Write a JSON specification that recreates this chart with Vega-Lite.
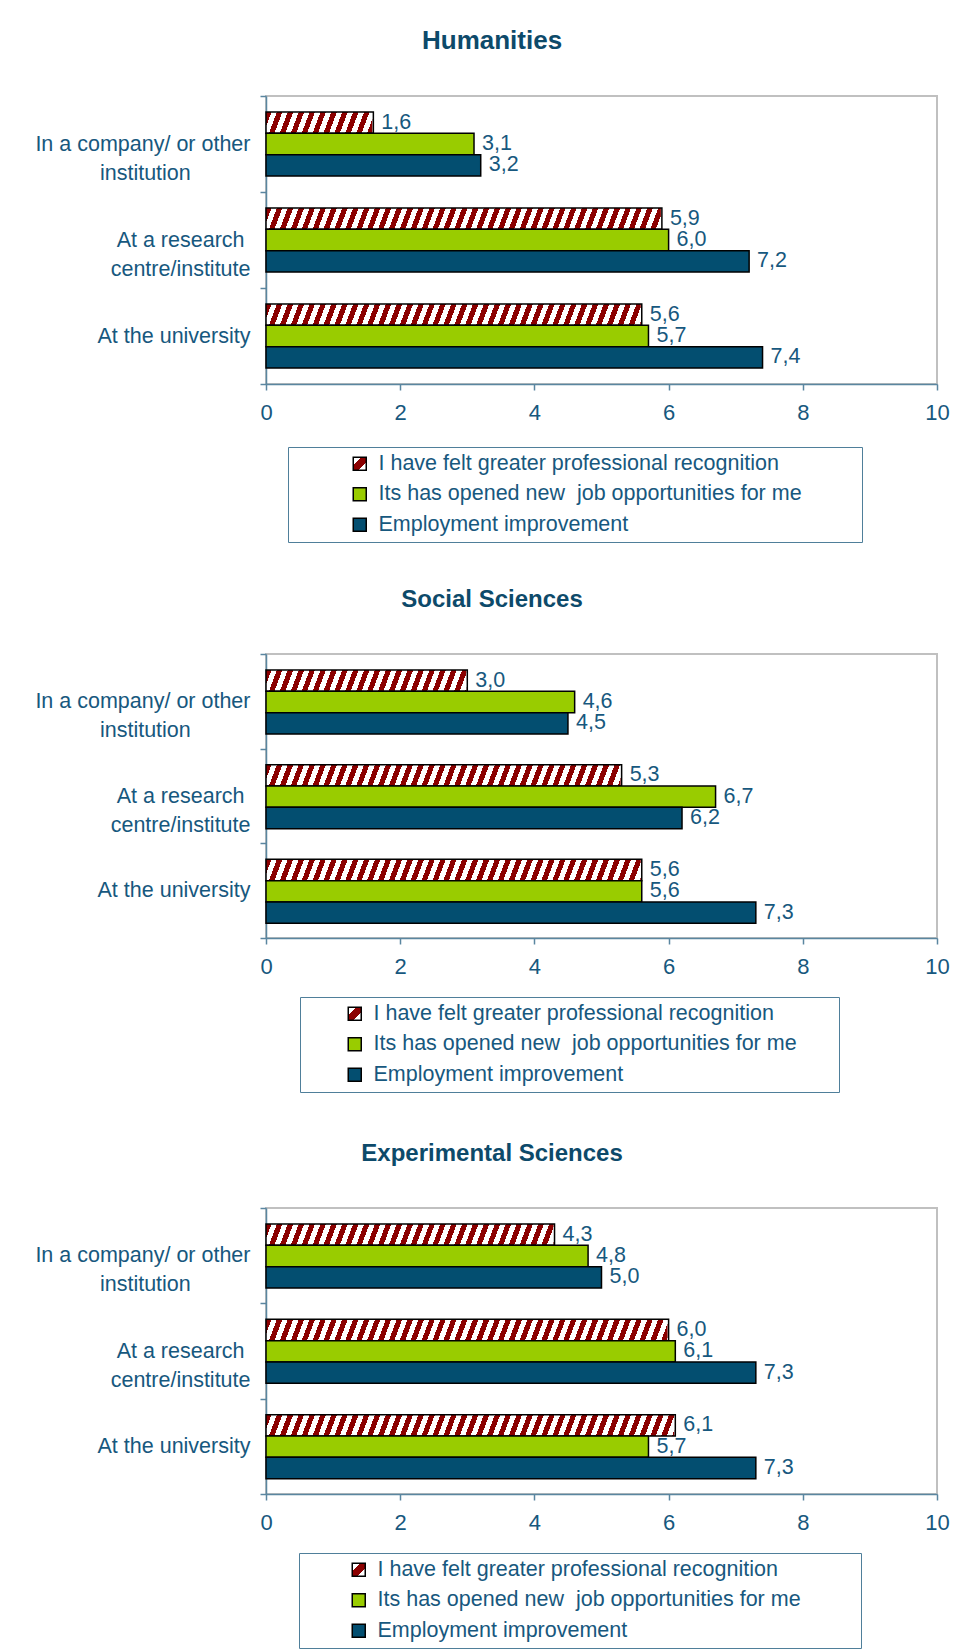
{
  "$schema": "https://vega.github.io/schema/vega-lite/v6.json",
  "background": "white",
  "padding": {"left": 33, "top": 27, "right": 0, "bottom": 0},
  "bounds": "flush",
  "spacing": 270,
  "params": [
    {"name": "hatch", "value": {"gradient": "linear", "x1": 0, "y1": 0, "x2": 1.0147, "y2": 0.0151, "stops": [
      {"offset":0,"color":"darkred"},{"offset":0.01,"color":"darkred"},{"offset":0.01,"color":"white"},{"offset":0.02,"color":"white"},
      {"offset":0.02,"color":"darkred"},{"offset":0.03,"color":"darkred"},{"offset":0.03,"color":"white"},{"offset":0.04,"color":"white"},
      {"offset":0.04,"color":"darkred"},{"offset":0.05,"color":"darkred"},{"offset":0.05,"color":"white"},{"offset":0.06,"color":"white"},
      {"offset":0.06,"color":"darkred"},{"offset":0.07,"color":"darkred"},{"offset":0.07,"color":"white"},{"offset":0.08,"color":"white"},
      {"offset":0.08,"color":"darkred"},{"offset":0.09,"color":"darkred"},{"offset":0.09,"color":"white"},{"offset":0.1,"color":"white"},
      {"offset":0.1,"color":"darkred"},{"offset":0.11,"color":"darkred"},{"offset":0.11,"color":"white"},{"offset":0.12,"color":"white"},
      {"offset":0.12,"color":"darkred"},{"offset":0.13,"color":"darkred"},{"offset":0.13,"color":"white"},{"offset":0.14,"color":"white"},
      {"offset":0.14,"color":"darkred"},{"offset":0.15,"color":"darkred"},{"offset":0.15,"color":"white"},{"offset":0.16,"color":"white"},
      {"offset":0.16,"color":"darkred"},{"offset":0.17,"color":"darkred"},{"offset":0.17,"color":"white"},{"offset":0.18,"color":"white"},
      {"offset":0.18,"color":"darkred"},{"offset":0.19,"color":"darkred"},{"offset":0.19,"color":"white"},{"offset":0.2,"color":"white"},
      {"offset":0.2,"color":"darkred"},{"offset":0.21,"color":"darkred"},{"offset":0.21,"color":"white"},{"offset":0.22,"color":"white"},
      {"offset":0.22,"color":"darkred"},{"offset":0.23,"color":"darkred"},{"offset":0.23,"color":"white"},{"offset":0.24,"color":"white"},
      {"offset":0.24,"color":"darkred"},{"offset":0.25,"color":"darkred"},{"offset":0.25,"color":"white"},{"offset":0.26,"color":"white"},
      {"offset":0.26,"color":"darkred"},{"offset":0.27,"color":"darkred"},{"offset":0.27,"color":"white"},{"offset":0.28,"color":"white"},
      {"offset":0.28,"color":"darkred"},{"offset":0.29,"color":"darkred"},{"offset":0.29,"color":"white"},{"offset":0.3,"color":"white"},
      {"offset":0.3,"color":"darkred"},{"offset":0.31,"color":"darkred"},{"offset":0.31,"color":"white"},{"offset":0.32,"color":"white"},
      {"offset":0.32,"color":"darkred"},{"offset":0.33,"color":"darkred"},{"offset":0.33,"color":"white"},{"offset":0.34,"color":"white"},
      {"offset":0.34,"color":"darkred"},{"offset":0.35,"color":"darkred"},{"offset":0.35,"color":"white"},{"offset":0.36,"color":"white"},
      {"offset":0.36,"color":"darkred"},{"offset":0.37,"color":"darkred"},{"offset":0.37,"color":"white"},{"offset":0.38,"color":"white"},
      {"offset":0.38,"color":"darkred"},{"offset":0.39,"color":"darkred"},{"offset":0.39,"color":"white"},{"offset":0.4,"color":"white"},
      {"offset":0.4,"color":"darkred"},{"offset":0.41,"color":"darkred"},{"offset":0.41,"color":"white"},{"offset":0.42,"color":"white"},
      {"offset":0.42,"color":"darkred"},{"offset":0.43,"color":"darkred"},{"offset":0.43,"color":"white"},{"offset":0.44,"color":"white"},
      {"offset":0.44,"color":"darkred"},{"offset":0.45,"color":"darkred"},{"offset":0.45,"color":"white"},{"offset":0.46,"color":"white"},
      {"offset":0.46,"color":"darkred"},{"offset":0.47,"color":"darkred"},{"offset":0.47,"color":"white"},{"offset":0.48,"color":"white"},
      {"offset":0.48,"color":"darkred"},{"offset":0.49,"color":"darkred"},{"offset":0.49,"color":"white"},{"offset":0.5,"color":"white"},
      {"offset":0.5,"color":"darkred"},{"offset":0.51,"color":"darkred"},{"offset":0.51,"color":"white"},{"offset":0.52,"color":"white"},
      {"offset":0.52,"color":"darkred"},{"offset":0.53,"color":"darkred"},{"offset":0.53,"color":"white"},{"offset":0.54,"color":"white"},
      {"offset":0.54,"color":"darkred"},{"offset":0.55,"color":"darkred"},{"offset":0.55,"color":"white"},{"offset":0.56,"color":"white"},
      {"offset":0.56,"color":"darkred"},{"offset":0.57,"color":"darkred"},{"offset":0.57,"color":"white"},{"offset":0.58,"color":"white"},
      {"offset":0.58,"color":"darkred"},{"offset":0.59,"color":"darkred"},{"offset":0.59,"color":"white"},{"offset":0.6,"color":"white"},
      {"offset":0.6,"color":"darkred"},{"offset":0.61,"color":"darkred"},{"offset":0.61,"color":"white"},{"offset":0.62,"color":"white"},
      {"offset":0.62,"color":"darkred"},{"offset":0.63,"color":"darkred"},{"offset":0.63,"color":"white"},{"offset":0.64,"color":"white"},
      {"offset":0.64,"color":"darkred"},{"offset":0.65,"color":"darkred"},{"offset":0.65,"color":"white"},{"offset":0.66,"color":"white"},
      {"offset":0.66,"color":"darkred"},{"offset":0.67,"color":"darkred"},{"offset":0.67,"color":"white"},{"offset":0.68,"color":"white"},
      {"offset":0.68,"color":"darkred"},{"offset":0.69,"color":"darkred"},{"offset":0.69,"color":"white"},{"offset":0.7,"color":"white"},
      {"offset":0.7,"color":"darkred"},{"offset":0.71,"color":"darkred"},{"offset":0.71,"color":"white"},{"offset":0.72,"color":"white"},
      {"offset":0.72,"color":"darkred"},{"offset":0.73,"color":"darkred"},{"offset":0.73,"color":"white"},{"offset":0.74,"color":"white"},
      {"offset":0.74,"color":"darkred"},{"offset":0.75,"color":"darkred"},{"offset":0.75,"color":"white"},{"offset":0.76,"color":"white"},
      {"offset":0.76,"color":"darkred"},{"offset":0.77,"color":"darkred"},{"offset":0.77,"color":"white"},{"offset":0.78,"color":"white"},
      {"offset":0.78,"color":"darkred"},{"offset":0.79,"color":"darkred"},{"offset":0.79,"color":"white"},{"offset":0.8,"color":"white"},
      {"offset":0.8,"color":"darkred"},{"offset":0.81,"color":"darkred"},{"offset":0.81,"color":"white"},{"offset":0.82,"color":"white"},
      {"offset":0.82,"color":"darkred"},{"offset":0.83,"color":"darkred"},{"offset":0.83,"color":"white"},{"offset":0.84,"color":"white"},
      {"offset":0.84,"color":"darkred"},{"offset":0.85,"color":"darkred"},{"offset":0.85,"color":"white"},{"offset":0.86,"color":"white"},
      {"offset":0.86,"color":"darkred"},{"offset":0.87,"color":"darkred"},{"offset":0.87,"color":"white"},{"offset":0.88,"color":"white"},
      {"offset":0.88,"color":"darkred"},{"offset":0.89,"color":"darkred"},{"offset":0.89,"color":"white"},{"offset":0.9,"color":"white"},
      {"offset":0.9,"color":"darkred"},{"offset":0.91,"color":"darkred"},{"offset":0.91,"color":"white"},{"offset":0.92,"color":"white"},
      {"offset":0.92,"color":"darkred"},{"offset":0.93,"color":"darkred"},{"offset":0.93,"color":"white"},{"offset":0.94,"color":"white"},
      {"offset":0.94,"color":"darkred"},{"offset":0.95,"color":"darkred"},{"offset":0.95,"color":"white"},{"offset":0.96,"color":"white"},
      {"offset":0.96,"color":"darkred"},{"offset":0.97,"color":"darkred"},{"offset":0.97,"color":"white"},{"offset":0.98,"color":"white"},
      {"offset":0.98,"color":"darkred"},{"offset":0.99,"color":"darkred"},{"offset":0.99,"color":"white"},{"offset":1,"color":"white"}
    ]}},
    {"name": "legendHatch", "value": {"gradient": "linear", "x1": 0, "y1": 0, "x2": 1, "y2": 1, "stops": [
      {"offset":0,"color":"white"},{"offset":0.32,"color":"white"},{"offset":0.32,"color":"darkred"},{"offset":0.68,"color":"darkred"},{"offset":0.68,"color":"white"},{"offset":1,"color":"white"}
    ]}}
  ],
  "datasets": {
    "hum": [
      {"cat": "In a company/ or other institution", "series": "I have felt greater professional recognition", "value": 1.6},
      {"cat": "In a company/ or other institution", "series": "Its has opened new  job opportunities for me", "value": 3.1},
      {"cat": "In a company/ or other institution", "series": "Employment improvement", "value": 3.2},
      {"cat": "At a research centre/institute", "series": "I have felt greater professional recognition", "value": 5.9},
      {"cat": "At a research centre/institute", "series": "Its has opened new  job opportunities for me", "value": 6.0},
      {"cat": "At a research centre/institute", "series": "Employment improvement", "value": 7.2},
      {"cat": "At the university", "series": "I have felt greater professional recognition", "value": 5.6},
      {"cat": "At the university", "series": "Its has opened new  job opportunities for me", "value": 5.7},
      {"cat": "At the university", "series": "Employment improvement", "value": 7.4}
    ],
    "soc": [
      {"cat": "In a company/ or other institution", "series": "I have felt greater professional recognition", "value": 3.0},
      {"cat": "In a company/ or other institution", "series": "Its has opened new  job opportunities for me", "value": 4.6},
      {"cat": "In a company/ or other institution", "series": "Employment improvement", "value": 4.5},
      {"cat": "At a research centre/institute", "series": "I have felt greater professional recognition", "value": 5.3},
      {"cat": "At a research centre/institute", "series": "Its has opened new  job opportunities for me", "value": 6.7},
      {"cat": "At a research centre/institute", "series": "Employment improvement", "value": 6.2},
      {"cat": "At the university", "series": "I have felt greater professional recognition", "value": 5.6},
      {"cat": "At the university", "series": "Its has opened new  job opportunities for me", "value": 5.6},
      {"cat": "At the university", "series": "Employment improvement", "value": 7.3}
    ],
    "exp": [
      {"cat": "In a company/ or other institution", "series": "I have felt greater professional recognition", "value": 4.3},
      {"cat": "In a company/ or other institution", "series": "Its has opened new  job opportunities for me", "value": 4.8},
      {"cat": "In a company/ or other institution", "series": "Employment improvement", "value": 5.0},
      {"cat": "At a research centre/institute", "series": "I have felt greater professional recognition", "value": 6.0},
      {"cat": "At a research centre/institute", "series": "Its has opened new  job opportunities for me", "value": 6.1},
      {"cat": "At a research centre/institute", "series": "Employment improvement", "value": 7.3},
      {"cat": "At the university", "series": "I have felt greater professional recognition", "value": 6.1},
      {"cat": "At the university", "series": "Its has opened new  job opportunities for me", "value": 5.7},
      {"cat": "At the university", "series": "Employment improvement", "value": 7.3}
    ]
  },
  "vconcat": [
    {
      "data": {"name": "hum"},
      "title": {"text": "Humanities", "fontSize": 26},
      "width": 671, "height": 288,
      "encoding": {
        "y": {"field": "cat", "type": "nominal", "title": null,
              "sort": ["In a company/ or other institution", "At a research centre/institute", "At the university"],
              "scale": {"paddingInner": 0, "paddingOuter": 0},
              "axis": {"labelExpr": "datum.value === 'In a company/ or other institution' ? ['In a company/ or other', 'institution\u00a0\u00a0\u00a0\u00a0\u00a0\u00a0\u00a0\u00a0\u00a0\u00a0\u200b'] : datum.value === 'At a research centre/institute' ? ['At a research\u00a0\u200b', 'centre/institute'] : datum.value"}},
        "yOffset": {"field": "series", "type": "nominal",
              "sort": ["I have felt greater professional recognition", "Its has opened new  job opportunities for me", "Employment improvement"],
              "scale": {"paddingInner": 0, "paddingOuter": 0.75}}
      },
      "layer": [
        {"transform": [{"filter": "datum.series === 'I have felt greater professional recognition'"}],
         "mark": {"type": "bar", "fill": {"expr": "hatch"}, "strokeWidth": 0},
         "encoding": {"x": {"datum": 0, "type": "quantitative", "title": null, "scale": {"domain": [0, 10]}}, "x2": {"datum": 8}}},
        {"transform": [{"filter": "datum.series === 'I have felt greater professional recognition'"}],
         "mark": {"type": "bar", "fill": "white", "stroke": "white", "strokeWidth": 2},
         "encoding": {"x": {"field": "value", "type": "quantitative", "title": null}, "x2": {"datum": 8}}},
        {"transform": [{"filter": "datum.series === 'I have felt greater professional recognition'"}],
         "mark": {"type": "bar", "fill": "transparent", "stroke": "black", "strokeWidth": 1.5},
         "encoding": {"x": {"field": "value", "type": "quantitative", "title": null}}},
        {"transform": [{"filter": "datum.series !== 'I have felt greater professional recognition'"}],
         "mark": {"type": "bar", "stroke": "black", "strokeWidth": 1.5},
         "encoding": {
           "x": {"field": "value", "type": "quantitative", "title": null},
           "fill": {"field": "series", "type": "nominal",
             "scale": {"domain": ["I have felt greater professional recognition", "Its has opened new  job opportunities for me", "Employment improvement"],
                       "range": [{"expr": "legendHatch"}, "#99cc00", "#034e70"]},
             "legend": {"legendX": 22, "legendY": 351, "symbolOffset": 55,
               "labelExpr": "replace(datum.label, '  ', '\u00a0 ') + (indexof(datum.label, 'opportunities') >= 0 ? '\u00a0\u00a0\u00a0\u00a0\u00a0\u00a0\u00a0\u00a0\u00a0\u200b' : '')"}}
         }},
        {"mark": {"type": "text", "align": "left", "baseline": "middle", "dx": 8, "fontSize": 21.5, "color": "#17587e"},
         "encoding": {"x": {"field": "value", "type": "quantitative", "title": null},
                      "text": {"field": "value", "type": "quantitative", "format": ".1f"}}}
      ]
    },
    {
      "data": {"name": "soc"},
      "title": {"text": "Social Sciences"},
      "width": 671, "height": 284,
      "encoding": {
        "y": {"field": "cat", "type": "nominal", "title": null,
              "sort": ["In a company/ or other institution", "At a research centre/institute", "At the university"],
              "scale": {"paddingInner": 0, "paddingOuter": 0},
              "axis": {"labelExpr": "datum.value === 'In a company/ or other institution' ? ['In a company/ or other', 'institution\u00a0\u00a0\u00a0\u00a0\u00a0\u00a0\u00a0\u00a0\u00a0\u00a0\u200b'] : datum.value === 'At a research centre/institute' ? ['At a research\u00a0\u200b', 'centre/institute'] : datum.value"}},
        "yOffset": {"field": "series", "type": "nominal",
              "sort": ["I have felt greater professional recognition", "Its has opened new  job opportunities for me", "Employment improvement"],
              "scale": {"paddingInner": 0, "paddingOuter": 0.75}}
      },
      "layer": [
        {"transform": [{"filter": "datum.series === 'I have felt greater professional recognition'"}],
         "mark": {"type": "bar", "fill": {"expr": "hatch"}, "strokeWidth": 0},
         "encoding": {"x": {"datum": 0, "type": "quantitative", "title": null, "scale": {"domain": [0, 10]}}, "x2": {"datum": 8}}},
        {"transform": [{"filter": "datum.series === 'I have felt greater professional recognition'"}],
         "mark": {"type": "bar", "fill": "white", "stroke": "white", "strokeWidth": 2},
         "encoding": {"x": {"field": "value", "type": "quantitative", "title": null}, "x2": {"datum": 8}}},
        {"transform": [{"filter": "datum.series === 'I have felt greater professional recognition'"}],
         "mark": {"type": "bar", "fill": "transparent", "stroke": "black", "strokeWidth": 1.5},
         "encoding": {"x": {"field": "value", "type": "quantitative", "title": null}}},
        {"transform": [{"filter": "datum.series !== 'I have felt greater professional recognition'"}],
         "mark": {"type": "bar", "stroke": "black", "strokeWidth": 1.5},
         "encoding": {
           "x": {"field": "value", "type": "quantitative", "title": null},
           "fill": {"field": "series", "type": "nominal",
             "scale": {"domain": ["I have felt greater professional recognition", "Its has opened new  job opportunities for me", "Employment improvement"],
                       "range": [{"expr": "legendHatch"}, "#99cc00", "#034e70"]},
             "legend": {"legendX": 34, "legendY": 343, "symbolOffset": 38,
               "labelExpr": "replace(datum.label, '  ', '\u00a0 ') + (indexof(datum.label, 'opportunities') >= 0 ? '\u00a0\u00a0\u00a0\u00a0\u00a0\u00a0\u200b' : '')"}}
         }},
        {"mark": {"type": "text", "align": "left", "baseline": "middle", "dx": 8, "fontSize": 21.5, "color": "#17587e"},
         "encoding": {"x": {"field": "value", "type": "quantitative", "title": null},
                      "text": {"field": "value", "type": "quantitative", "format": ".1f"}}}
      ]
    },
    {
      "data": {"name": "exp"},
      "title": {"text": "Experimental Sciences"},
      "width": 671, "height": 286,
      "encoding": {
        "y": {"field": "cat", "type": "nominal", "title": null,
              "sort": ["In a company/ or other institution", "At a research centre/institute", "At the university"],
              "scale": {"paddingInner": 0, "paddingOuter": 0},
              "axis": {"labelExpr": "datum.value === 'In a company/ or other institution' ? ['In a company/ or other', 'institution\u00a0\u00a0\u00a0\u00a0\u00a0\u00a0\u00a0\u00a0\u00a0\u00a0\u200b'] : datum.value === 'At a research centre/institute' ? ['At a research\u00a0\u200b', 'centre/institute'] : datum.value"}},
        "yOffset": {"field": "series", "type": "nominal",
              "sort": ["I have felt greater professional recognition", "Its has opened new  job opportunities for me", "Employment improvement"],
              "scale": {"paddingInner": 0, "paddingOuter": 0.75}}
      },
      "layer": [
        {"transform": [{"filter": "datum.series === 'I have felt greater professional recognition'"}],
         "mark": {"type": "bar", "fill": {"expr": "hatch"}, "strokeWidth": 0},
         "encoding": {"x": {"datum": 0, "type": "quantitative", "title": null, "scale": {"domain": [0, 10]}}, "x2": {"datum": 8}}},
        {"transform": [{"filter": "datum.series === 'I have felt greater professional recognition'"}],
         "mark": {"type": "bar", "fill": "white", "stroke": "white", "strokeWidth": 2},
         "encoding": {"x": {"field": "value", "type": "quantitative", "title": null}, "x2": {"datum": 8}}},
        {"transform": [{"filter": "datum.series === 'I have felt greater professional recognition'"}],
         "mark": {"type": "bar", "fill": "transparent", "stroke": "black", "strokeWidth": 1.5},
         "encoding": {"x": {"field": "value", "type": "quantitative", "title": null}}},
        {"transform": [{"filter": "datum.series !== 'I have felt greater professional recognition'"}],
         "mark": {"type": "bar", "stroke": "black", "strokeWidth": 1.5},
         "encoding": {
           "x": {"field": "value", "type": "quantitative", "title": null},
           "fill": {"field": "series", "type": "nominal",
             "scale": {"domain": ["I have felt greater professional recognition", "Its has opened new  job opportunities for me", "Employment improvement"],
                       "range": [{"expr": "legendHatch"}, "#99cc00", "#034e70"]},
             "legend": {"legendX": 33, "legendY": 345, "symbolOffset": 43,
               "labelExpr": "replace(datum.label, '  ', '\u00a0 ') + (indexof(datum.label, 'opportunities') >= 0 ? '\u00a0\u00a0\u00a0\u00a0\u00a0\u00a0\u00a0\u00a0\u00a0\u200b' : '')"}}
         }},
        {"mark": {"type": "text", "align": "left", "baseline": "middle", "dx": 8, "fontSize": 21.5, "color": "#17587e"},
         "encoding": {"x": {"field": "value", "type": "quantitative", "title": null},
                      "text": {"field": "value", "type": "quantitative", "format": ".1f"}}}
      ]
    }
  ],
  "resolve": {"scale": {"fill": "independent"}, "legend": {"fill": "independent"}},
  "config": {
    "font": "Liberation Sans",
    "locale": {"number": {"decimal": ",", "thousands": ".", "grouping": [3], "currency": ["", " €"]}},
    "view": {"stroke": "#c0c0c0", "strokeWidth": 2},
    "title": {"fontSize": 24, "fontWeight": "bold", "color": "#0d4a6a", "anchor": "middle", "frame": "bounds", "baseline": "alphabetic", "offset": 31},
    "axis": {"labelColor": "#17587e", "domainColor": "#5a86a0", "tickColor": "#5a86a0", "domainWidth": 1.5, "tickWidth": 1.5, "tickSize": 6, "grid": false},
    "axisX": {"labelFontSize": 22, "labelPadding": 12, "tickCount": 5, "labelFlush": false, "labelOverlap": false},
    "axisY": {"labelFontSize": 21.5, "labelPadding": 10, "labelLimit": 400, "labelLineHeight": 29, "labelAlign": "right", "tickBand": "extent"},
    "legend": {"orient": "none", "direction": "vertical", "title": null, "padding": 6, "strokeColor": "#4f7f9a", "fillColor": "white",
               "symbolType": "square", "symbolSize": 169, "symbolStrokeColor": "black", "symbolStrokeWidth": 1.5,
               "labelFontSize": 21.5, "labelColor": "#17587e", "labelLimit": 800, "labelOffset": 8, "rowPadding": 7.5}
  }
}
